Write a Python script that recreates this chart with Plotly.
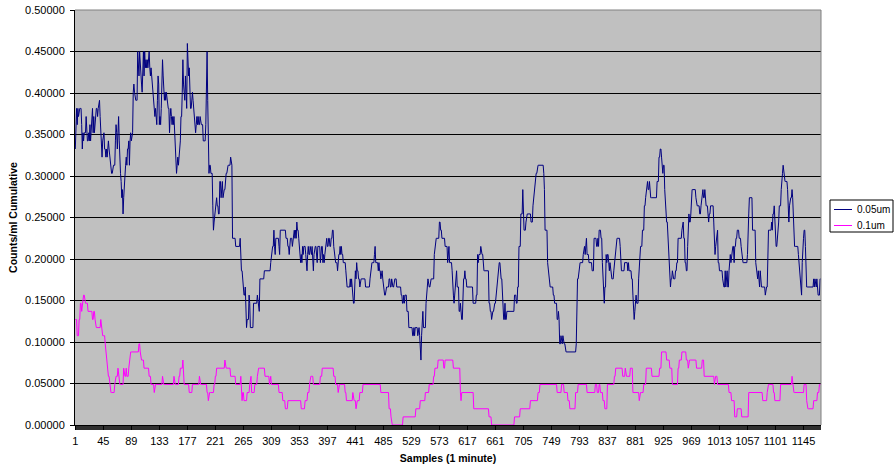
import plotly.graph_objects as go

# particle counts -> counts/ml (one particle count step)
UNIT = 0.00978

SERIES_NAMES = ["0.05um", "0.1um"]
SERIES_COLORS = ["#000080", "#FF00FF"]

# 0.05um channel: particle counts per 1-minute sample (samples 1..1172)
BLUE_COUNTS = [
    34,39,39,37,39,38,39,39,39,39,37,34,36,35,36,36,36,38,36,35,35,
    36,35,37,35,36,38,39,36,38,36,37,39,39,39,38,39,40,40,38,36,36,
    33,35,36,36,34,34,33,34,33,34,35,34,33,32,31,31,31,32,32,32,32,
    35,37,36,34,36,38,35,32,31,30,28,29,26,28,30,31,32,33,32,34,34,
    35,32,35,36,35,36,36,41,42,41,40,40,40,40,46,44,43,46,44,42,42,
    41,46,46,43,46,44,45,44,45,44,45,46,44,43,44,43,42,41,40,38,38,
    39,38,37,40,43,42,37,38,37,39,41,45,43,41,40,41,40,41,40,39,39,
    39,36,38,39,38,37,38,37,38,36,35,33,31,32,33,32,33,34,35,38,38,
    41,45,42,40,40,43,41,39,47,44,43,44,41,39,39,40,41,40,39,38,38,
    36,37,38,37,38,
    37,37,38,37,37,37,37,35,35,35,35,37,46,46,40,32,31,32,32,31,31,
    31,27,24,25,26,26,28,28,27,27,26,26,30,30,28,30,30,28,29,29,29,
    31,31,31,32,32,32,32,32,33,32,32,23,23,23,23,23,22,22,22,22,22,
    22,22,23,19,19,19,17,17,16,16,17,12,12,13,13,13,16,15,12,12,12,
    12,12,15,15,15,15,15,15,16,15,15,14,18,18,18,18,18,18,18,19,19,
    19,19,19,19,19,19,19,19,20,21,21,22,22,24,22,21,23,23,23,23,23,
    22,21,24,24,24,24,24,24,24,24,24,23,23,23,22,22,21,23,23,23,23,
    22,23,24,24,23,24,23,25,24,24,23,22,21,20,21,20,22,21,22,22,22,
    21,20,19,21,22,21,21,22,21,21,22,20,19,21,22,22,22,21,20,22,22,
    22,22,20,22,22,22,20,
    21,20,21,22,22,23,22,22,23,23,22,22,23,23,24,24,22,21,21,20,20,
    20,19,21,21,21,22,21,22,21,21,20,20,20,20,19,17,17,17,17,17,17,
    18,17,18,17,15,15,15,17,19,18,20,19,19,18,18,17,18,18,18,18,18,
    18,18,18,17,17,17,17,17,17,17,18,19,20,20,20,20,20,21,22,20,20,
    20,20,19,20,19,19,18,19,19,18,17,17,16,16,17,17,17,17,17,18,18,
    17,17,18,17,17,17,18,18,18,18,17,17,17,17,17,17,17,16,16,15,15,
    16,15,16,16,16,14,14,14,12,12,12,12,12,12,11,11,12,11,12,12,12,
    12,11,12,12,11,8,8,11,12,14,12,12,12,12,15,17,17,18,17,17,17,
    18,18,18,18,18,18,21,22,22,23,23,23,23,23,25,25,24,24,23,23,23,
    23,23,22,22,22,22,20,21,
    22,20,20,20,20,19,16,16,15,16,16,18,19,17,17,17,14,14,15,13,13,
    13,17,18,18,19,18,18,17,17,17,17,17,17,17,17,17,17,15,15,15,15,
    15,16,16,21,20,21,21,21,22,21,21,21,19,19,19,19,19,19,19,19,19,
    15,15,14,14,13,14,14,14,15,15,15,16,16,18,19,19,20,20,18,18,18,
    16,16,13,13,15,13,13,14,14,14,14,14,14,14,14,14,14,14,14,16,16,
    16,15,15,17,17,22,22,22,26,26,26,29,26,24,24,24,25,26,26,26,26,
    26,26,26,25,25,25,27,28,29,29,30,31,31,32,32,32,32,32,32,32,32,
    32,32,31,29,24,24,24,24,20,19,19,17,17,17,17,17,17,16,16,15,15,
    15,15,13,13,14,13,10,10,11,10,10,11,10,10,10,9,9,9,9,9,9,
    9,9,9,9,9,9,9,
    9,9,9,9,10,15,18,18,19,19,20,20,20,20,20,21,22,22,21,23,23,
    21,21,21,20,20,20,20,20,19,19,19,23,23,23,23,22,22,23,22,24,24,
    24,23,23,20,18,15,15,17,17,21,20,21,21,20,19,20,19,19,18,18,18,
    19,20,20,22,22,23,23,23,23,23,22,20,19,19,19,19,19,20,20,20,20,
    20,19,20,19,19,19,19,18,18,16,13,13,14,16,16,15,15,15,18,20,20,
    22,22,22,24,24,24,27,27,28,29,29,30,29,29,30,28,28,28,28,28,28,
    28,28,28,28,28,30,30,30,33,33,34,34,33,31,31,32,32,29,27,25,25,
    25,23,23,19,19,17,18,18,19,18,18,18,18,19,19,20,20,23,23,23,23,
    23,23,24,25,25,23,23,20,20,19,19,22,26,26,25,25,26,29,29,29,29,
    29,29,29,28,27,27,27,
    27,27,26,26,27,28,28,29,28,28,29,27,27,27,27,26,25,26,26,27,27,
    27,27,27,25,21,21,22,23,24,24,20,20,19,19,19,19,19,18,17,17,17,
    19,17,19,19,17,17,19,21,21,20,21,21,22,22,20,22,22,23,23,24,24,
    24,23,23,23,22,21,20,20,20,20,20,20,20,20,21,26,26,28,28,28,28,
    28,24,24,24,24,24,20,19,19,18,19,17,17,19,17,17,17,17,17,17,17,
    16,17,17,17,23,24,24,24,24,24,25,24,26,26,27,25,25,22,22,23,23,
    25,27,27,27,29,31,31,32,31,30,30,30,30,30,29,26,25,27,28,28,28,
    29,28,25,22,22,22,22,22,22,22,21,20,18,18,16,16,20,23,23,24,24,
    22,19,17,17,17,17,17,17,17,17,17,17,17,18,17,18,17,17,18,16,16,
    16,16,18,18,
]

# 0.1um channel: particle counts held for a number of consecutive samples
PINK_COUNTS = [
    13,11,13,15,14,15,16,15,14,13,14,13,12,13,12,11,10,9,8,7,6,5,4,5,6,7,6,5,
    7,6,7,6,7,8,9,10,9,8,7,6,5,4,5,6,5,6,5,6,7,8,6,5,4,5,6,5,4,3,4,5,6,7,8,7,
    6,5,6,4,3,4,3,4,5,6,4,5,6,7,6,5,6,5,4,3,2,3,2,3,4,5,6,5,6,7,6,5,4,5,4,3,
    4,3,2,3,4,5,4,2,1,0,1,2,3,4,5,6,7,8,7,8,7,4,3,4,2,1,0,1,2,3,4,5,4,5,4,3,
    2,4,5,4,5,4,5,4,3,2,5,6,7,6,7,6,7,4,3,4,5,7,6,7,9,8,7,5,7,8,9,8,7,8,7,8,
    6,5,6,5,4,3,1,2,1,4,3,4,5,4,3,5,6,5,4,5,3,2,3,4,5,
]
PINK_RUNS = [
    3,3,2,2,1,2,2,5,7,2,2,1,8,1,1,5,1,1,1,2,2,2,6,1,4,1,2,6,
    1,3,1,3,1,2,13,2,1,5,8,3,5,1,12,1,17,1,7,2,4,1,1,8,5,11,1,11,2,1,8,2,2,13,1,8,
    8,8,1,1,1,2,5,4,1,2,5,4,1,11,7,1,2,12,6,4,4,21,6,4,3,1,5,11,3,18,3,4,1,10,2,10,
    1,4,1,5,5,28,13,3,1,18,20,7,8,6,7,2,5,9,2,13,11,1,1,19,24,4,36,9,16,12,3,27,7,4,6,3,
    9,4,14,13,3,3,2,4,3,4,11,2,11,4,1,7,4,10,1,6,4,9,12,3,8,5,4,9,2,4,7,3,1,12,9,3,
    16,1,4,18,4,5,4,7,11,22,7,1,9,2,9,18,1,2,16,4,1,10,6,3,3,
]

# category axis labels (every 44th sample)
X_TICK_START = 1
X_TICK_STEP = 44

blue = [c * UNIT for c in BLUE_COUNTS]
pink = []
for c, r in zip(PINK_COUNTS, PINK_RUNS):
    pink.extend([c * UNIT] * r)

n = max(len(blue), len(pink))
samples = list(range(1, n + 1))

fig = go.Figure()
fig.add_trace(go.Scatter(x=samples[:len(blue)], y=blue, mode="lines", name=SERIES_NAMES[0],
                         line=dict(color=SERIES_COLORS[0], width=1)))
fig.add_trace(go.Scatter(x=samples[:len(pink)], y=pink, mode="lines", name=SERIES_NAMES[1],
                         line=dict(color=SERIES_COLORS[1], width=1)))

L, R, T, B = 75, 73, 10, 43
W, H = 894, 468
pw, ph = W - L - R, H - T - B


def px(xp):
    return (xp - L) / pw


def py(yp):
    return (H - B - yp) / ph


shapes = [
    dict(type="path", xref="paper", yref="paper", path="M0,1 L1,1 L1,0",
         line=dict(color="#808080", width=1)),
    dict(type="rect", xref="paper", yref="paper", x0=px(830), x1=px(893), y0=py(232), y1=py(200),
         line=dict(color="black", width=1), fillcolor="white"),
]
annotations = []
for i, (name, col) in enumerate(zip(SERIES_NAMES, SERIES_COLORS)):
    yy = py(209.5 + 16 * i)
    shapes.append(dict(type="line", xref="paper", yref="paper", x0=px(834), x1=px(852), y0=yy, y1=yy,
                       line=dict(color=col, width=1)))
    annotations.append(dict(text=name, xref="paper", yref="paper", x=px(855), y=yy, xanchor="left",
                            yanchor="middle", showarrow=False, font=dict(size=10, color="black")))

fig.update_layout(
    width=W, height=H,
    margin=dict(l=L, r=R, t=T, b=B, autoexpand=False),
    paper_bgcolor="white", plot_bgcolor="#C0C0C0",
    showlegend=False,
    font=dict(family="Liberation Sans, Arial, sans-serif", size=11, color="black"),
    shapes=shapes, annotations=annotations,
    xaxis=dict(range=[0.5, n + 0.5], tickmode="linear", tick0=X_TICK_START, dtick=X_TICK_STEP,
               ticks="outside", ticklen=4, tickcolor="black", showgrid=False, zeroline=False,
               showline=True, linecolor="black", linewidth=1,
               minor=dict(tickmode="linear", tick0=1, dtick=1, ticks="outside", ticklen=4,
                          tickcolor="#303030", showgrid=False),
               tickfont=dict(size=11), ticklabelstandoff=2,
               title=dict(text="<b>Samples (1 minute)</b>", font=dict(size=10.5), standoff=8)),
    yaxis=dict(range=[0, 0.5], tick0=0, dtick=0.05, tickformat=".5f", ticks="outside", ticklen=4,
               tickcolor="black", showgrid=True, gridcolor="black", gridwidth=1, zeroline=False,
               showline=True, linecolor="black", linewidth=1, tickfont=dict(size=11),
               ticklabelstandoff=3,
               title=dict(text="<b>Counts/ml Cumulative</b>", font=dict(size=10.5), standoff=5)),
)

fig.write_html("out.html", config={"displayModeBar": False},
               post_script="document.body.style.margin='0px';document.body.style.padding='0px';")
